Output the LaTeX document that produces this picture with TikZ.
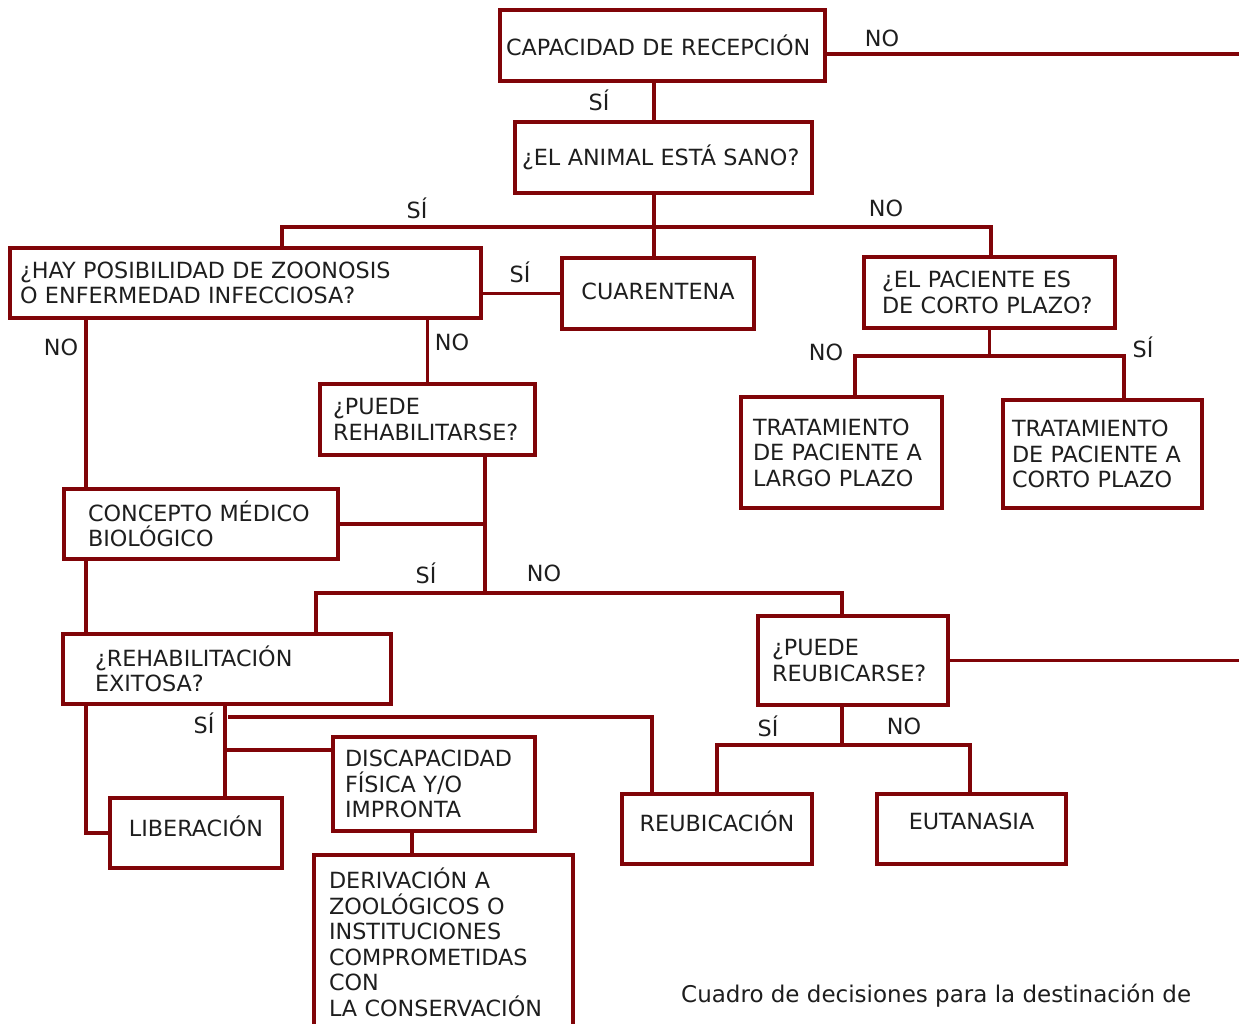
\documentclass[tikz,border=0pt]{standalone}
\usepackage{fontspec}
\setmainfont{DejaVu Sans}
\usepackage{tikz}
\definecolor{granate}{RGB}{128,4,8}
\definecolor{tinta}{RGB}{30,30,30}
\hyphenpenalty=10000
\tikzset{
  caja/.style={draw=granate, line width=3.1pt, text=tinta, anchor=north west, align=left, inner ysep=0pt, outer sep=0pt},
  linea/.style={granate, line width=3.1pt},
  etiqueta/.style={text=tinta, inner sep=0pt},
}

\begin{document}
\begin{tikzpicture}[x=1pt, y=-1pt, font=\fontsize{22.3}{25.5}\selectfont]
        \fill[white] (0,0) rectangle (1239,1024);
        \useasboundingbox (0,0) rectangle (1239,1024);

        % cajas
        \node[caja, minimum width=325pt, minimum height=71pt, inner xsep=6pt, text width=313pt] (recepcion) at (500,10) {CAPACIDAD DE RECEPCIÓN};
        \node[caja, minimum width=297pt, minimum height=71pt, inner xsep=7pt, text width=283pt] (sano) at (515,122) {¿EL ANIMAL ESTÁ SANO?};
        \node[caja, minimum width=471pt, minimum height=70pt, inner xsep=10pt, text width=451pt] (zoonosis) at (10,248) {¿HAY POSIBILIDAD DE ZOONOSIS\\O ENFERMEDAD INFECCIOSA?};
        \node[caja, align=center, minimum width=192pt, minimum height=71pt, text depth=5pt] (cuarentena) at (562,258) {CUARENTENA};
        \node[caja, minimum width=251pt, minimum height=71pt, inner xsep=18pt, text width=215pt] (paciente) at (864,257) {¿EL PACIENTE ES\\DE CORTO PLAZO?};
        \node[caja, minimum width=201pt, minimum height=111pt, inner xsep=12pt, text width=177pt] (largo) at (741,397) {TRATAMIENTO\\DE PACIENTE A\\LARGO PLAZO};
        \node[caja, minimum width=199pt, minimum height=108pt, inner xsep=9pt, text width=181pt] (corto) at (1003,400) {TRATAMIENTO\\DE PACIENTE A\\CORTO PLAZO};
        \node[caja, minimum width=215pt, minimum height=71pt, inner xsep=13pt, text width=189pt] (rehab) at (320,384) {¿PUEDE\\REHABILITARSE?};
        \node[caja, minimum width=274pt, minimum height=70pt, inner xsep=24pt, text width=226pt] (concepto) at (64,489) {CONCEPTO MÉDICO\\BIOLÓGICO};
        \node[caja, minimum width=328pt, minimum height=70pt, inner xsep=32pt, text width=264pt] (rehexito) at (63,634) {¿REHABILITACIÓN\\EXITOSA?};
        \node[caja, minimum width=190pt, minimum height=89pt, inner xsep=14pt, text width=162pt] (reubicarse) at (758,616) {¿PUEDE\\REUBICARSE?};
        \node[caja, align=center, minimum width=172pt, minimum height=70pt, text depth=14pt] (liberacion) at (110,798) {LIBERACIÓN};
        \node[caja, minimum width=202pt, minimum height=94pt, inner xsep=12pt, text width=178pt] (discapacidad) at (333,737) {DISCAPACIDAD\\FÍSICA Y/O\\IMPRONTA};
        \node[caja, minimum width=259pt, minimum height=175pt, inner xsep=15pt, text width=229pt] (derivacion) at (314,855) {DERIVACIÓN A\\ZOOLÓGICOS O\\INSTITUCIONES\\COMPROMETIDAS\\CON\\LA CONSERVACIÓN};
        \node[caja, align=center, minimum width=190pt, minimum height=70pt, text depth=16pt] (reubicacion) at (622,794) {REUBICACIÓN};
        \node[caja, align=center, minimum width=189pt, minimum height=70pt, text depth=16pt] (eutanasia) at (877,794) {EUTANASIA};

        % puntos de union
        \coordinate (fin) at (1245,54);
        \coordinate (s1) at (654,227);
        \coordinate (izq) at (282,227);
        \coordinate (der) at (991,227);
        \coordinate (pl) at (855,356);
        \coordinate (pc) at (1124,356);
        \coordinate (v1) at (86,829);
        \coordinate (r1) at (485,593);
        \coordinate (r2) at (316,593);
        \coordinate (r3) at (842,593);
        \coordinate (e1) at (225,750);
        \coordinate (e2) at (228,717);
        \coordinate (e3) at (652,717);
        \coordinate (d1) at (412,843);
        \coordinate (u1) at (842,745);
        \coordinate (u2) at (717,745);
        \coordinate (u3) at (970,745);

        % lineas
        \draw[linea] (s1 |- recepcion.south) -- (s1 |- sano.north);
        \draw[linea] (recepcion.east |- fin) -- (fin);
        \draw[linea] (s1 |- sano.south) -- (s1 |- cuarentena.north);
        \draw[linea] (izq |- zoonosis.north) -- (izq) -- (der) -- (der |- paciente.north);
        \draw[linea] (zoonosis.east |- cuarentena.west) -- (cuarentena.west);
        \draw[linea] (paciente.south) -- (paciente.south |- pl);
        \draw[linea] (pl |- largo.north) -- (pl) -- (pc) -- (pc |- corto.north);
        \draw[linea] (v1 |- zoonosis.south) -- (v1 |- concepto.north);
        \draw[linea] (v1 |- concepto.south) -- (v1 |- rehexito.north);
        \draw[linea] (v1 |- rehexito.south) -- (liberacion.west -| v1) -- (liberacion.west);
        \draw[linea] (rehab.north |- zoonosis.south) -- (rehab.north);
        \draw[linea] (r1 |- rehab.south) -- (r1);
        \draw[linea] (concepto.east) -- (concepto.east -| r1);
        \draw[linea] (r2 |- rehexito.north) -- (r2) -- (r3) -- (r3 |- reubicarse.north);
        \draw[linea] (reubicarse.east) -- (reubicarse.east -| fin);
        \draw[linea] (e1 |- rehexito.south) -- (e1 |- liberacion.north);
        \draw[linea] (e1) -- (e1 -| discapacidad.west);
        \draw[linea] (e2) -- (e3) -- (e3 |- reubicacion.north);
        \draw[linea] (d1 |- discapacidad.south) -- (d1 |- derivacion.north);
        \draw[linea] (u1 |- reubicarse.south) -- (u1);
        \draw[linea] (u2 |- reubicacion.north) -- (u2) -- (u3) -- (u3 |- eutanasia.north);

        % etiquetas
        \node[etiqueta] (si1) at (599,100) {SÍ};
        \node[etiqueta] (no1) at (882,38) {NO};
        \node[etiqueta] (si2) at (417,208) {SÍ};
        \node[etiqueta] (no2) at (886,208) {NO};
        \node[etiqueta] (si3) at (520,272) {SÍ};
        \node[etiqueta] (no3) at (826,352) {NO};
        \node[etiqueta] (si4) at (1143,347) {SÍ};
        \node[etiqueta] (no4) at (61,347) {NO};
        \node[etiqueta] (no5) at (452,342) {NO};
        \node[etiqueta] (si5) at (426,573) {SÍ};
        \node[etiqueta] (no6) at (544,573) {NO};
        \node[etiqueta] (si6) at (204,723) {SÍ};
        \node[etiqueta] (si7) at (768,726) {SÍ};
        \node[etiqueta] (no7) at (904,726) {NO};

        \node[etiqueta, anchor=west, font=\fontsize{23}{27}\selectfont] (pie) at (681,996) {Cuadro de decisiones para la destinación de};
\end{tikzpicture}
\end{document}
